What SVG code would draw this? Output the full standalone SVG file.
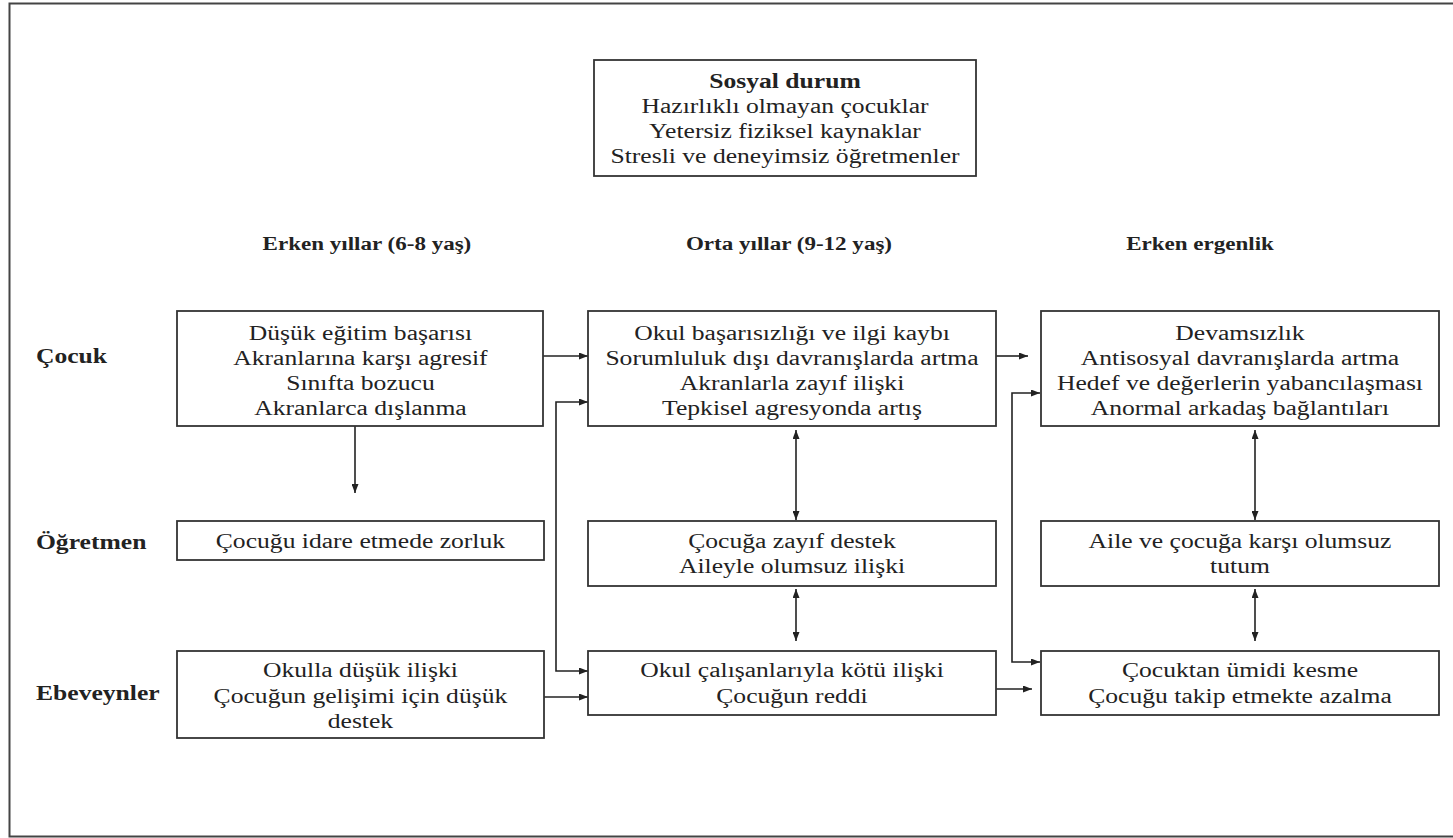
<svg xmlns="http://www.w3.org/2000/svg" width="1453" height="838" viewBox="0 0 1453 838">
<style>
.box{fill:#fff;stroke:#333;stroke-width:1.8}
.t{font-family:"Liberation Serif","Times New Roman",serif;font-size:20px;fill:#222;text-anchor:middle}
.b{font-weight:bold}
.h{font-size:18px}
.lbl{text-anchor:start}
.c{fill:none;stroke:#222;stroke-width:1.6}
</style>
<defs>
<marker id="ah" viewBox="0 0 10 10" refX="10" refY="5" markerWidth="9" markerHeight="7" markerUnits="userSpaceOnUse" orient="auto-start-reverse" preserveAspectRatio="none">
<path d="M0,0 L10,5 L0,10 z" fill="#222"/>
</marker>
</defs>
<rect x="0" y="0" width="1453" height="838" fill="#fff"/>
<rect x="9.5" y="3.5" width="1452" height="833" fill="none" stroke="#444" stroke-width="2"/>

<g id="connectors">
<line class="c" x1="543" y1="356" x2="588" y2="356" marker-end="url(#ah)"/>
<polyline class="c" points="588,402 556,402 556,671 588,671" marker-start="url(#ah)" marker-end="url(#ah)"/>
<line class="c" x1="355" y1="426" x2="355" y2="493" marker-end="url(#ah)"/>
<line class="c" x1="544" y1="697" x2="588" y2="697" marker-end="url(#ah)"/>
<line class="c" x1="796" y1="430" x2="796" y2="520" marker-start="url(#ah)" marker-end="url(#ah)"/>
<line class="c" x1="796" y1="589" x2="796" y2="641" marker-start="url(#ah)" marker-end="url(#ah)"/>
<line class="c" x1="996" y1="356" x2="1028" y2="356" marker-end="url(#ah)"/>
<polyline class="c" points="1040,393 1012,393 1012,662 1040,662" marker-start="url(#ah)" marker-end="url(#ah)"/>
<line class="c" x1="996" y1="689" x2="1032" y2="689" marker-end="url(#ah)"/>
<line class="c" x1="1255" y1="430" x2="1255" y2="520" marker-start="url(#ah)" marker-end="url(#ah)"/>
<line class="c" x1="1255" y1="589" x2="1255" y2="641" marker-start="url(#ah)" marker-end="url(#ah)"/>
</g>

<g id="sosyal"><rect class="box" x="594" y="60" width="382" height="116"/></g>
<g id="erken-cocuk"><rect class="box" x="177" y="311" width="366" height="115"/></g>
<g id="orta-cocuk"><rect class="box" x="588" y="311" width="408" height="115"/></g>
<g id="ergen-cocuk"><rect class="box" x="1041" y="311" width="398" height="115"/></g>
<g id="erken-ogretmen"><rect class="box" x="177" y="521" width="367" height="39"/></g>
<g id="orta-ogretmen"><rect class="box" x="588" y="521" width="408" height="65"/></g>
<g id="ergen-ogretmen"><rect class="box" x="1041" y="521" width="398" height="65"/></g>
<g id="erken-ebeveyn"><rect class="box" x="177" y="651" width="367" height="87"/></g>
<g id="orta-ebeveyn"><rect class="box" x="588" y="651" width="408" height="64"/></g>
<g id="ergen-ebeveyn"><rect class="box" x="1041" y="651" width="398" height="64"/></g>

<g id="texts" transform="scale(1.28 1)">
<text class="t b" x="613.3" y="88">Sosyal durum</text>
<text class="t" x="613.3" y="113">Hazırlıklı olmayan çocuklar</text>
<text class="t" x="613.3" y="138">Yetersiz fiziksel kaynaklar</text>
<text class="t" x="613.3" y="163">Stresli ve deneyimsiz öğretmenler</text>

<text class="t b h" x="286.7" y="250">Erken yıllar (6-8 yaş)</text>
<text class="t b h" x="616.4" y="250">Orta yıllar (9-12 yaş)</text>
<text class="t b h" x="937.5" y="250">Erken ergenlik</text>

<text class="t b lbl" x="28.1" y="363">Çocuk</text>
<text class="t b lbl" x="28.1" y="549">Öğretmen</text>
<text class="t b lbl" x="28.1" y="700">Ebeveynler</text>

<text class="t" x="281.6" y="340">Düşük eğitim başarısı</text>
<text class="t" x="281.6" y="365">Akranlarına karşı agresif</text>
<text class="t" x="281.6" y="390">Sınıfta bozucu</text>
<text class="t" x="281.6" y="415">Akranlarca dışlanma</text>

<text class="t" x="618.75" y="340">Okul başarısızlığı ve ilgi kaybı</text>
<text class="t" x="618.75" y="365">Sorumluluk dışı davranışlarda artma</text>
<text class="t" x="618.75" y="390">Akranlarla zayıf ilişki</text>
<text class="t" x="618.75" y="415">Tepkisel agresyonda artış</text>

<text class="t" x="968.75" y="340">Devamsızlık</text>
<text class="t" x="968.75" y="365">Antisosyal davranışlarda artma</text>
<text class="t" x="968.75" y="390">Hedef ve değerlerin yabancılaşması</text>
<text class="t" x="968.75" y="415">Anormal arkadaş bağlantıları</text>

<text class="t" x="281.6" y="548">Çocuğu idare etmede zorluk</text>

<text class="t" x="618.75" y="548">Çocuğa zayıf destek</text>
<text class="t" x="618.75" y="573">Aileyle olumsuz ilişki</text>

<text class="t" x="968.75" y="548">Aile ve çocuğa karşı olumsuz</text>
<text class="t" x="968.75" y="573">tutum</text>

<text class="t" x="281.6" y="677">Okulla düşük ilişki</text>
<text class="t" x="281.6" y="703">Çocuğun gelişimi için düşük</text>
<text class="t" x="281.6" y="728">destek</text>

<text class="t" x="618.75" y="677">Okul çalışanlarıyla kötü ilişki</text>
<text class="t" x="618.75" y="703">Çocuğun reddi</text>

<text class="t" x="968.75" y="677">Çocuktan ümidi kesme</text>
<text class="t" x="968.75" y="703">Çocuğu takip etmekte azalma</text>
</g>
</svg>
